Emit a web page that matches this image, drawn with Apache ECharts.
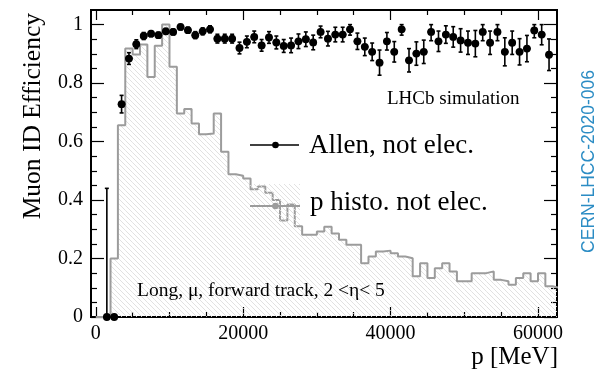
<!DOCTYPE html>
<html><head><meta charset="utf-8">
<script src="https://cdn.jsdelivr.net/npm/echarts@6/dist/echarts.min.js"></script>
<style>html,body{margin:0;padding:0;background:#fff}#c{width:602px;height:373px}</style>
</head><body><div id="c"></div>
<script>
// ---------- data ----------
const binWidth = 1000; // MeV
// p histogram (normalised), bins [k*1000,(k+1)*1000], k = 0..62
const histo = [0, 0, 0.20, 0.656, 0.918, 0.898, 0.932, 0.821, 0.928, 1.0,
  0.856, 0.696, 0.711, 0.662, 0.625, 0.628, 0.696, 0.565, 0.488, 0.483,
  0.474, 0.437, 0.446, 0.425, 0.40, 0.33, 0.385, 0.31, 0.281, 0.281,
  0.292, 0.309, 0.286, 0.264, 0.247, 0.247, 0.184, 0.207, 0.224, 0.227,
  0.218, 0.207, 0.201, 0.139, 0.184, 0.133, 0.167, 0.184, 0.156, 0.122,
  0.122, 0.150, 0.150, 0.156, 0.127, 0.122, 0.110, 0.133, 0.150, 0.122,
  0.150, 0.105, 0.099];
// Allen efficiency, bin centres 1500 .. 61500 MeV
const allenP = [1500, 2500, 3500, 4500, 5500, 6500, 7500, 8500, 9500, 10500,
  11500, 12500, 13500, 14500, 15500, 16500, 17500, 18500, 19500, 20500,
  21500, 22500, 23500, 24500, 25500, 26500, 27500, 28500, 29500, 30500,
  31500, 32500, 33500, 34500, 35500, 36500, 37500, 38500, 39500, 40500,
  41500, 42500, 43500, 44500, 45500, 46500, 47500, 48500, 49500, 50500,
  51500, 52500, 53500, 54500, 55500, 56500, 57500, 58500, 59500, 60500, 61500];
const allenEff = [0, 0, 0.728, 0.884, 0.933, 0.961, 0.969, 0.964, 0.977, 0.975,
  0.992, 0.981, 0.964, 0.977, 0.984, 0.952, 0.952, 0.952, 0.920, 0.941,
  0.958, 0.929, 0.956, 0.939, 0.927, 0.929, 0.943, 0.950, 0.939, 0.975,
  0.952, 0.966, 0.966, 0.984, 0.943, 0.924, 0.907, 0.870, 0.943, 0.907,
  0.984, 0.878, 0.901, 0.907, 0.975, 0.943, 0.966, 0.958, 0.946, 0.938,
  0.935, 0.975, 0.938, 0.975, 0.907, 0.938, 0.907, 0.918, 0.980, 0.966, 0.897];
const allenErr = [0.44, 0, 0.03, 0.02, 0.015, 0.012, 0.01, 0.01, 0.01, 0.01,
  0.01, 0.01, 0.012, 0.012, 0.012, 0.015, 0.015, 0.015, 0.02, 0.02,
  0.02, 0.02, 0.02, 0.022, 0.022, 0.025, 0.025, 0.025, 0.025, 0.02,
  0.025, 0.025, 0.025, 0.02, 0.028, 0.03, 0.03, 0.043, 0.03, 0.035,
  0.02, 0.04, 0.04, 0.04, 0.03, 0.035, 0.03, 0.035, 0.04, 0.04,
  0.045, 0.03, 0.04, 0.03, 0.048, 0.04, 0.045, 0.045, 0.025, 0.035, 0.054];
const xMajor = [0, 20000, 40000, 60000];
const xMinor = [5000, 10000, 15000, 25000, 30000, 35000, 45000, 50000, 55000];
const yMajor = [0, 0.2, 0.4, 0.6, 0.8, 1];
const yMinor = [0.05, 0.1, 0.15, 0.25, 0.3, 0.35, 0.45, 0.5, 0.55, 0.65, 0.7, 0.75, 0.85, 0.9, 0.95];
const xMin = -650, xMax = 62580, yMin = 0, yMax = 1.05;

// ---------- hatch pattern ----------
const pc = document.createElement('canvas');
pc.width = 5; pc.height = 5;
const g = pc.getContext('2d');
g.strokeStyle = '#dedede'; g.lineWidth = 0.9;
[-5, 0, 5].forEach(c => { g.beginPath(); g.moveTo(0, c); g.lineTo(5, 5 + c); g.stroke(); });
const hatch = { image: pc, repeat: 'repeat' };

const serif = 'Liberation Serif';
function xAx(pos, vals, len, labels) {
  return {
    type: 'value', min: xMin, max: xMax, position: pos, gridIndex: 0,
    axisLine: { show: false, onZero: false }, splitLine: { show: false },
    axisTick: { show: true, inside: true, length: len, customValues: vals, lineStyle: { color: '#000', width: 1.2 } },
    axisLabel: labels ? { show: true, customValues: vals, formatter: v => String(v), margin: 7,
      fontSize: 20, fontFamily: serif, color: '#000' } : { show: false }
  };
}
function yAx(pos, vals, len, labels) {
  return {
    type: 'value', min: yMin, max: yMax, position: pos, gridIndex: 0,
    axisLine: { show: false, onZero: false }, splitLine: { show: false },
    axisTick: { show: true, inside: true, length: len, customValues: vals, lineStyle: { color: '#000', width: 1.2 } },
    axisLabel: labels ? { show: true, customValues: vals, formatter: v => String(v), margin: 8,
      fontSize: 20, fontFamily: serif, color: '#000' } : { show: false }
  };
}

const histFill = histo.map((v, k) => [k * binWidth, (k + 1) * binWidth, v]);
const histLine = histo.map((v, k) => [k * binWidth, v]);
histLine.push([histo.length * binWidth, histo[histo.length - 1]]);
const allenData = allenP.map((p, i) => [p, allenEff[i], allenErr[i]]);

function txt(x, y, text, size, opts) {
  return Object.assign({
    type: 'text', x: x, y: y, z: 10,
    style: Object.assign({ text: text, fontSize: size, fontFamily: serif, fill: '#000',
      textAlign: 'left', align: 'left', textVerticalAlign: 'middle', verticalAlign: 'middle' }, (opts && opts.style) || {})
  }, (opts && opts.el) || {});
}

const chart = echarts.init(document.getElementById('c'), null, { renderer: 'canvas' });
chart.setOption({
  animation: false,
  backgroundColor: '#fff',
  grid: { left: 91, top: 10, width: 466, height: 307, show: true, borderColor: '#000', borderWidth: 2, backgroundColor: 'transparent' },
  xAxis: [xAx('bottom', xMajor, 10, true), xAx('bottom', xMinor, 5, false), xAx('top', xMajor, 10, false), xAx('top', xMinor, 5, false)],
  yAxis: [yAx('left', yMajor, 13, true), yAx('left', yMinor, 6, false), yAx('right', yMajor, 13, false), yAx('right', yMinor, 6, false)],
  series: [
    {
      type: 'custom', name: 'p histo fill', xAxisIndex: 0, yAxisIndex: 0, z: 1, silent: true,
      data: histFill,
      renderItem: function (params, api) {
        const x0 = api.value(0), x1 = Math.min(api.value(1), xMax), v = api.value(2);
        if (!(v > 0)) return null;
        const a = api.coord([x0, v]), b = api.coord([x1, 0]);
        return { type: 'rect', shape: { x: a[0], y: a[1], width: b[0] - a[0], height: b[1] - a[1] }, style: { fill: hatch } };
      }
    },
    {
      type: 'line', name: 'p histo. not elec.', xAxisIndex: 0, yAxisIndex: 0, z: 2,
      data: histLine, step: 'end', symbol: 'none', clip: true,
      lineStyle: { color: '#9c9c9c', width: 2 }, itemStyle: { color: '#9c9c9c' }
    },
    {
      type: 'custom', name: 'Allen, not elec.', xAxisIndex: 0, yAxisIndex: 0, z: 5,
      data: allenData,
      renderItem: function (params, api) {
        const x = api.value(0), y = api.value(1), e = api.value(2);
        const c = api.coord([x, y]);
        const l = api.coord([x - binWidth / 2, y])[0], r = api.coord([x + binWidth / 2, y])[0];
        const lineSt = { stroke: '#000', lineWidth: 1.6 };
        const ch = [{ type: 'line', shape: { x1: l, y1: c[1], x2: r, y2: c[1] }, style: { stroke: '#000', lineWidth: 2 } }];
        if (e > 0) {
          const t = api.coord([x, Math.min(y + e, 1)])[1], b = api.coord([x, Math.max(y - e, 0)])[1];
          ch.push({ type: 'line', shape: { x1: c[0], y1: t, x2: c[0], y2: b }, style: lineSt });
          ch.push({ type: 'line', shape: { x1: c[0] - 2, y1: t, x2: c[0] + 2, y2: t }, style: lineSt });
          ch.push({ type: 'line', shape: { x1: c[0] - 2, y1: b, x2: c[0] + 2, y2: b }, style: lineSt });
        }
        ch.push({ type: 'circle', shape: { cx: c[0], cy: c[1], r: 3.9 }, style: { fill: '#000' } });
        return { type: 'group', children: ch };
      }
    }
  ],
  graphic: [
    // legend entry 1
    { type: 'line', z: 10, shape: { x1: 250, y1: 145, x2: 299, y2: 145 }, style: { stroke: '#000', lineWidth: 1.5 } },
    { type: 'circle', z: 10, shape: { cx: 275.5, cy: 145, r: 3.3 }, style: { fill: '#000' } },
    txt(309, 145.5, 'Allen, not elec.', 27),
    // legend entry 2
    { type: 'rect', z: 9, shape: { x: 250, y: 184, width: 50, height: 44 }, style: { fill: hatch } },
    { type: 'line', z: 10, shape: { x1: 250, y1: 206, x2: 300, y2: 206 }, style: { stroke: '#9c9c9c', lineWidth: 2 } },
    { type: 'circle', z: 10, shape: { cx: 275.5, cy: 206, r: 3.3 }, style: { fill: '#9c9c9c' } },
    txt(310, 203, 'p histo. not elec.', 27),
    // annotations
    txt(387, 99.5, 'LHCb simulation', 19),
    txt(137, 291, 'Long, \u03bc, forward track, 2 <\u03b7< 5', 19.5),
    // axis titles
    txt(558, 357.5, 'p [MeV]', 25, { style: { textAlign: 'right', align: 'right' } }),
    txt(33, 13, 'Muon ID Efficiency', 25.5, { style: { textAlign: 'right', align: 'right' }, el: { rotation: Math.PI / 2 } }),
    txt(589, 161.5, 'CERN-LHCC-2020-006', 17.5, { style: { textAlign: 'center', align: 'center', fontFamily: 'Liberation Sans', fill: '#2b8cc4' }, el: { rotation: Math.PI / 2 } })
  ]
});
</script>
</body></html>
